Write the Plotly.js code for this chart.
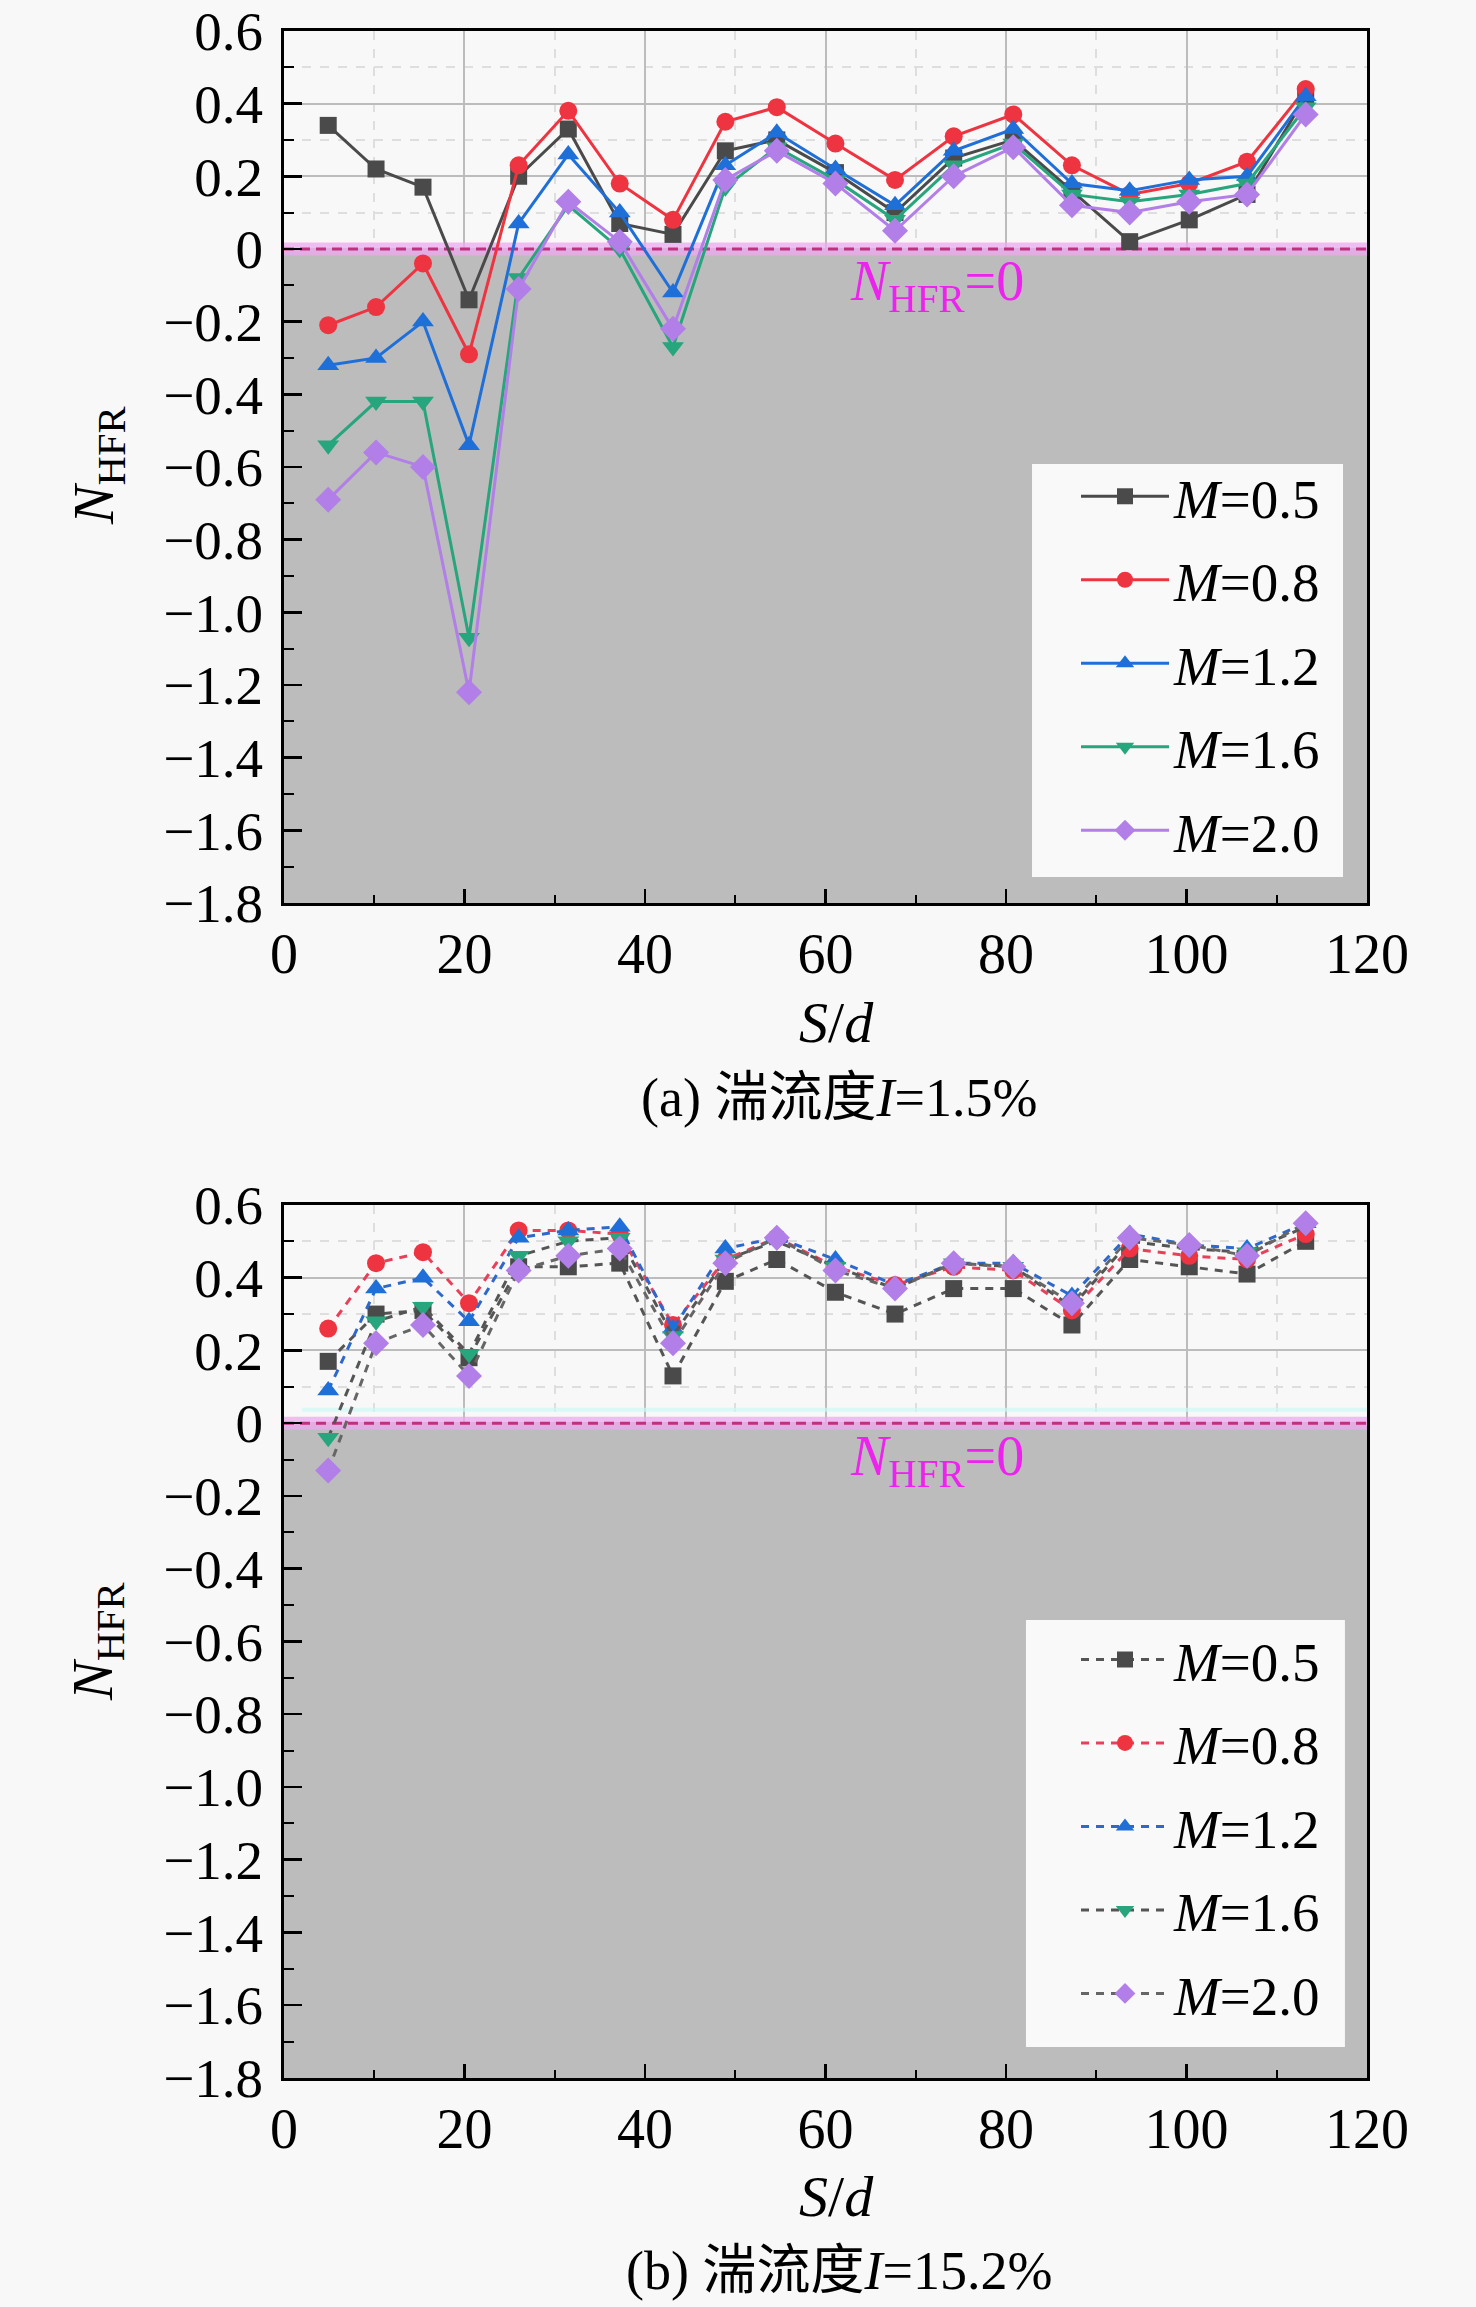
<!DOCTYPE html>
<html>
<head>
<meta charset="utf-8">
<script src="https://cdn.plot.ly/plotly-3.0.1.min.js"></script>
<style>
  html, body { margin: 0; padding: 0; background: #f8f8f8; }
  #chart { width: 1476px; height: 2307px; }
</style>
</head>
<body>
<div id="chart"></div>
<script>
// S/d positions (shared by both panels)
const sd = [4.9, 10.2, 15.4, 20.5, 26.0, 31.5, 37.2, 43.1, 48.9, 54.6, 61.1, 67.7, 74.2, 80.8, 87.3, 93.7, 100.3, 106.7, 113.2];

// (a) I = 1.5%
const a_M05 = [0.34, 0.22, 0.17, -0.14, 0.20, 0.33, 0.07, 0.04, 0.27, 0.30, 0.21, 0.10, 0.25, 0.30, 0.16, 0.02, 0.08, 0.15, 0.42];
const a_M08 = [-0.21, -0.16, -0.04, -0.29, 0.23, 0.38, 0.18, 0.08, 0.35, 0.39, 0.29, 0.19, 0.31, 0.37, 0.23, 0.15, 0.18, 0.24, 0.44];
const a_M12 = [-0.32, -0.30, -0.20, -0.54, 0.07, 0.26, 0.10, -0.12, 0.23, 0.32, 0.22, 0.12, 0.27, 0.33, 0.18, 0.16, 0.19, 0.20, 0.42];
const a_M16 = [-0.54, -0.42, -0.42, -1.07, -0.08, 0.12, 0.00, -0.27, 0.17, 0.28, 0.19, 0.08, 0.23, 0.29, 0.15, 0.13, 0.15, 0.18, 0.39];
const a_M20 = [-0.69, -0.56, -0.60, -1.22, -0.11, 0.13, 0.02, -0.22, 0.19, 0.27, 0.18, 0.05, 0.20, 0.28, 0.12, 0.10, 0.13, 0.15, 0.37];

// (b) I = 15.2%
const b_M05 = [0.17, 0.30, 0.31, 0.18, 0.43, 0.43, 0.44, 0.13, 0.39, 0.45, 0.36, 0.30, 0.37, 0.37, 0.27, 0.45, 0.43, 0.41, 0.50];
const b_M08 = [0.26, 0.44, 0.47, 0.33, 0.53, 0.53, 0.52, 0.27, 0.45, 0.51, 0.43, 0.38, 0.43, 0.42, 0.31, 0.48, 0.46, 0.45, 0.52];
const b_M12 = [0.09, 0.37, 0.40, 0.28, 0.51, 0.53, 0.54, 0.26, 0.48, 0.51, 0.45, 0.38, 0.44, 0.44, 0.35, 0.52, 0.49, 0.48, 0.55];
const b_M16 = [-0.04, 0.28, 0.32, 0.19, 0.46, 0.50, 0.51, 0.24, 0.45, 0.50, 0.43, 0.37, 0.44, 0.43, 0.32, 0.50, 0.48, 0.47, 0.54];
const b_M20 = [-0.13, 0.22, 0.27, 0.13, 0.42, 0.46, 0.48, 0.22, 0.44, 0.51, 0.42, 0.37, 0.44, 0.43, 0.33, 0.51, 0.49, 0.46, 0.55];

const seriesNames = ['<i>M</i>=0.5', '<i>M</i>=0.8', '<i>M</i>=1.2', '<i>M</i>=1.6', '<i>M</i>=2.0'];
const yTickVals = [0.6, 0.4, 0.2, 0, -0.2, -0.4, -0.6, -0.8, -1.0, -1.2, -1.4, -1.6, -1.8];
const yTickText = ['0.6', '0.4', '0.2', '0', '\u22120.2', '\u22120.4', '\u22120.6', '\u22120.8', '\u22121.0', '\u22121.2', '\u22121.4', '\u22121.6', '\u22121.8'];
const xTickVals = [0, 20, 40, 60, 80, 100, 120];

const FONT = '"Times New Roman", "Liberation Serif", "Noto Sans CJK SC", serif';
const colors = ['#4a4a4a', '#ee3440', '#1f6fd8', '#27a57c', '#b27ee8'];
const symbols = ['square', 'circle', 'triangle-up', 'triangle-down', 'diamond'];
const sizes = [17, 18, 19, 19, 20];
// dashed line colours in panel (b)
const dashColors = ['#555555', '#e8405a', '#2f68cc', '#555555', '#666666'];

const aData = [a_M05, a_M08, a_M12, a_M16, a_M20];
const bData = [b_M05, b_M08, b_M12, b_M16, b_M20];

var traces = [];
aData.forEach(function(ys, i) {
  traces.push({
    x: sd, y: ys, xaxis: 'x', yaxis: 'y',
    type: 'scatter', mode: 'lines+markers',
    name: seriesNames[i], legend: 'legend', legendgroup: 'a' + i,
    line: {color: colors[i], width: 3},
    marker: {color: colors[i], symbol: symbols[i], size: sizes[i], line: {width: 0}}
  });
});
bData.forEach(function(ys, i) {
  traces.push({
    x: sd, y: ys, xaxis: 'x2', yaxis: 'y2',
    type: 'scatter', mode: 'lines+markers',
    name: seriesNames[i], legend: 'legend2', legendgroup: 'b' + i,
    line: {color: dashColors[i], width: 3, dash: '8px,7px'},
    marker: {color: colors[i], symbol: symbols[i], size: sizes[i], line: {width: 0}}
  });
});

function xAxis(anchor) {
  return {
    anchor: anchor, domain: [0.1924, 0.9262],
    range: [0, 120], tickvals: xTickVals, ticktext: xTickVals.map(String),
    ticks: 'inside', ticklen: 14, tickwidth: 2.5, tickcolor: '#000',
    showline: true, linecolor: '#000', linewidth: 3, mirror: true,
    showgrid: true, gridcolor: '#bcbcbc', gridwidth: 2,
    zeroline: false, ticklabelstandoff: 0,
    tickfont: {family: FONT, size: 56, color: '#000'},
    minor: {dtick: 10, ticks: 'inside', ticklen: 8, tickwidth: 2, tickcolor: '#000',
            showgrid: true, gridcolor: '#dedede', gridwidth: 2, griddash: 'dash'}
  };
}
function yAxis(anchor, domain) {
  return {
    anchor: anchor, domain: domain,
    range: [-1.8, 0.6], tickvals: yTickVals, ticktext: yTickText,
    ticks: 'inside', ticklen: 18, tickwidth: 2.5, tickcolor: '#000',
    showline: true, linecolor: '#000', linewidth: 3, mirror: true,
    showgrid: true, gridcolor: '#bcbcbc', gridwidth: 2,
    zeroline: false, ticklabelstandoff: 7,
    tickfont: {family: FONT, size: 55, color: '#000'},
    minor: {dtick: 0.1, ticks: 'inside', ticklen: 10, tickwidth: 2, tickcolor: '#000',
            showgrid: true, gridcolor: '#dedede', gridwidth: 2, griddash: 'dash'}
  };
}

function panelShapes(xr, yr) {
  return [
    {type: 'rect', xref: xr, yref: yr, x0: 0, x1: 120, y0: -1.8, y1: 0,
     fillcolor: '#bcbcbc', line: {width: 0}, layer: 'between'},
    {type: 'line', xref: xr, yref: yr, x0: 0, x1: 120, y0: 0, y1: 0,
     line: {color: 'rgba(236,170,240,0.75)', width: 13}, layer: 'between'},
    {type: 'line', xref: xr, yref: yr, x0: 0, x1: 120, y0: 0, y1: 0,
     line: {color: '#c0307e', width: 3, dash: '10px,6px'}, layer: 'between'}
  ];
}

var shapes = panelShapes('x', 'y').concat(panelShapes('x2', 'y2'));
shapes.push({type: 'line', xref: 'x2', yref: 'y2', x0: 2, x1: 120, y0: 0.037, y1: 0.037,
             line: {color: 'rgba(205,250,245,0.7)', width: 4}, layer: 'between'});
// legend boxes
shapes.push({type: 'rect', xref: 'paper', yref: 'paper', x0: 0.6992, x1: 0.9099, y0: 0.6199, y1: 0.7989,
             fillcolor: '#f9f9f9', line: {width: 0}, layer: 'above'});
shapes.push({type: 'rect', xref: 'paper', yref: 'paper', x0: 0.6951, x1: 0.9112, y0: 0.1127, y1: 0.2978,
             fillcolor: '#f9f9f9', line: {width: 0}, layer: 'above'});

function note(text, x, y, size, extra) {
  return Object.assign({
    text: text, xref: 'paper', yref: 'paper', x: x, y: y,
    xanchor: 'center', yanchor: 'middle', showarrow: false,
    font: {family: FONT, size: size, color: '#000'}
  }, extra || {});
}

var annotations = [
  note('<i>N</i><sub>HFR</sub>', 0.0657, 0.7984, 58, {textangle: -90}),
  note('<i>N</i><sub>HFR</sub>', 0.0657, 0.2887, 58, {textangle: -90}),
  note('<i>S</i>/<i>d</i>', 0.5664, 0.5566, 58),
  note('<i>S</i>/<i>d</i>', 0.5664, 0.0477, 58),
  note('(a) 湍流度<i>I</i>=1.5%', 0.5684, 0.5241, 54),
  note('(b) 湍流度<i>I</i>=15.2%', 0.5684, 0.0156, 54),
  {text: '<i>N</i><sub>HFR</sub>=0', xref: 'x', yref: 'y', x: 72.4, y: -0.1, showarrow: false,
   font: {family: FONT, size: 56, color: '#ee22ee'}},
  {text: '<i>N</i><sub>HFR</sub>=0', xref: 'x2', yref: 'y2', x: 72.4, y: -0.1, showarrow: false,
   font: {family: FONT, size: 56, color: '#ee22ee'}}
];

function legendCfg(x, y) {
  return {
    x: x, y: y, xanchor: 'left', yanchor: 'top',
    bgcolor: 'rgba(0,0,0,0)', borderwidth: 0,
    font: {family: FONT, size: 55, color: '#000'},
    tracegroupgap: 9, itemwidth: 88
  };
}

var layout = {
  width: 1476, height: 2307,
  margin: {l: 0, r: 0, t: 0, b: 0},
  paper_bgcolor: '#f8f8f8', plot_bgcolor: '#f8f8f8',
  showlegend: true,
  xaxis: xAxis('y'),
  yaxis: yAxis('x', [0.6086, 0.9866]),
  xaxis2: xAxis('y2'),
  yaxis2: yAxis('x2', [0.0993, 0.4777]),
  legend: legendCfg(0.7290, 0.8032),
  legend2: legendCfg(0.7290, 0.2990),
  shapes: shapes,
  annotations: annotations
};

Plotly.newPlot('chart', traces, layout, {displayModeBar: false, staticPlot: true});
</script>
</body>
</html>
